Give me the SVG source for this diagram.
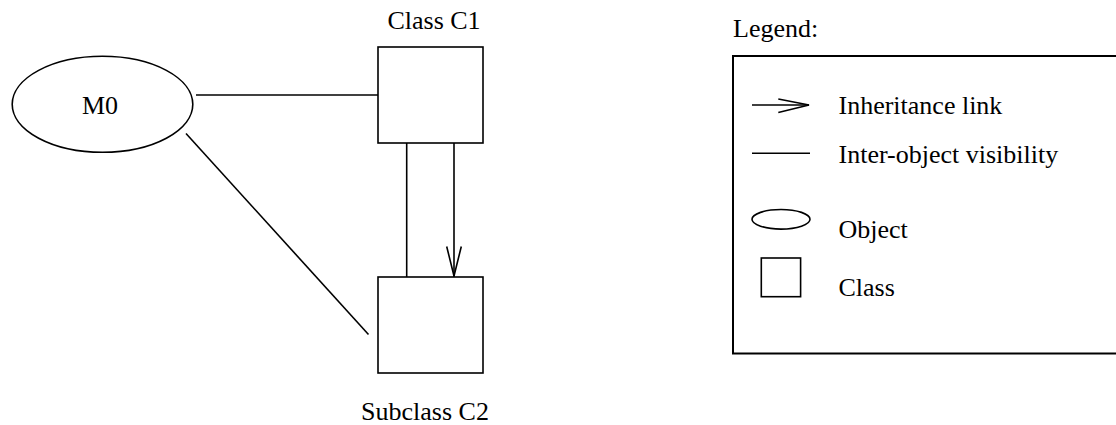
<svg xmlns="http://www.w3.org/2000/svg" width="1116" height="425" viewBox="0 0 1116 425">
<style>
text { font-family: "Liberation Serif", "Times New Roman", serif; font-size: 26px; fill: #000; }
.s { fill: #fff; stroke: #000; stroke-width: 1.6; }
.l { fill: none; stroke: #000; stroke-width: 1.6; }
</style>
<rect width="1116" height="425" fill="#fff"/>
<g id="connectors">
  <line class="l" x1="196" y1="95" x2="378" y2="95"/>
  <line class="l" x1="186" y1="133.5" x2="368.5" y2="334.5"/>
  <line class="l" x1="406.7" y1="143" x2="406.7" y2="277"/>
  <line class="l" x1="454" y1="143" x2="454" y2="277"/>
  <polyline class="l" points="446.7,246.5 454,276 461.3,246.5"/>
</g>
<g id="M0">
  <ellipse class="s" cx="102.5" cy="104.3" rx="90.3" ry="48"/>
  <text x="100" y="113.5" text-anchor="middle">M0</text>
</g>
<g id="C1">
  <rect class="s" x="378" y="47" width="105" height="96"/>
  <text x="434" y="28.5" text-anchor="middle">Class C1</text>
</g>
<g id="C2">
  <rect class="s" x="378" y="277" width="105" height="96"/>
  <text x="425" y="420" text-anchor="middle">Subclass C2</text>
</g>
<g id="legend">
  <text x="733" y="36.7">Legend:</text>
  <rect x="733" y="56" width="400" height="297.5" fill="none" stroke="#000" stroke-width="2"/>
  <line class="l" x1="752" y1="105" x2="809" y2="105"/>
  <polyline class="l" points="778.3,99 809,105 778.3,112.5"/>
  <text x="838.5" y="114.3">Inheritance link</text>
  <line class="l" x1="752" y1="153.3" x2="810" y2="153.3"/>
  <text x="838.5" y="162.7">Inter-object visibility</text>
  <ellipse class="s" cx="781" cy="219.3" rx="29" ry="9.8"/>
  <text x="838.5" y="238.3">Object</text>
  <rect class="s" x="761.3" y="258" width="39.3" height="38.7"/>
  <text x="838.5" y="296">Class</text>
</g>
</svg>
